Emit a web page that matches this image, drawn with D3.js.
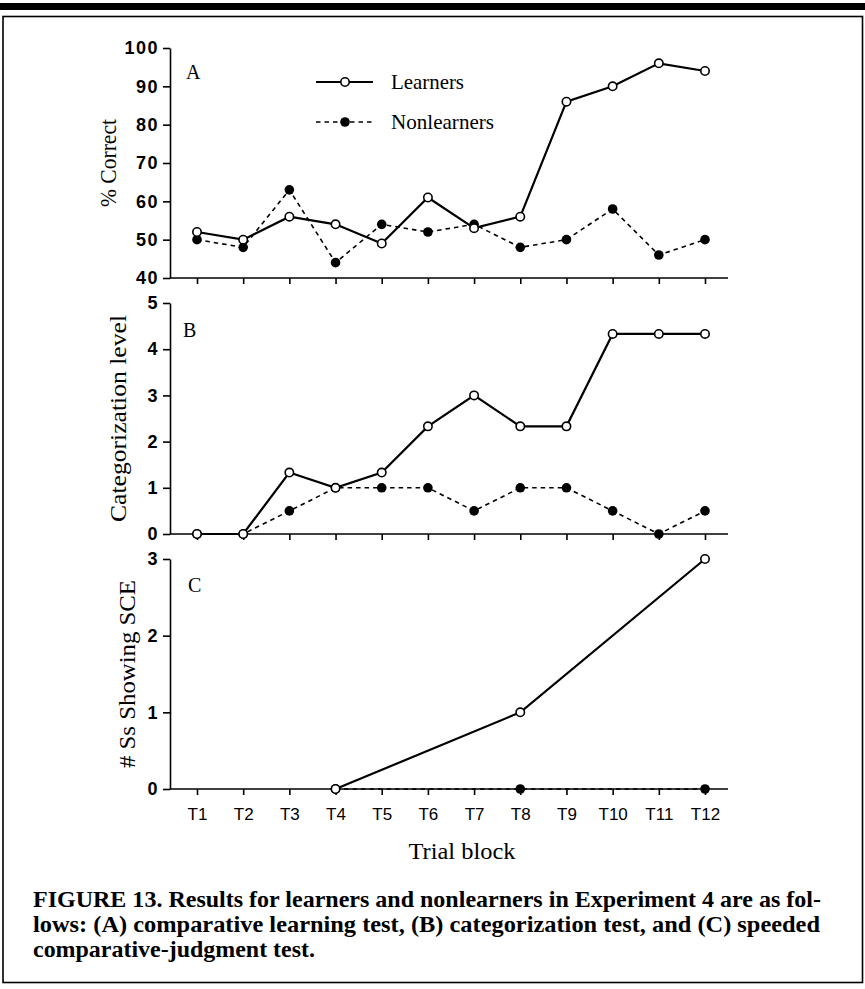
<!DOCTYPE html>
<html>
<head>
<meta charset="utf-8">
<script src="https://cdn.jsdelivr.net/npm/d3@7"></script>
<style>
  html, body { margin: 0; padding: 0; background: #fff; }
  svg { display: block; }
  .ytick text { font-family: "Liberation Sans", Arial, sans-serif; font-weight: bold; font-size: 18px; letter-spacing: 1.5px; fill: #000; }
  .xtick text { font-family: "Liberation Sans", Arial, sans-serif; font-size: 17px; fill: #000; }
  .serif { font-family: "Liberation Serif", "Times New Roman", serif; fill: #000; }
</style>
</head>
<body>
<svg id="fig" width="865" height="989"></svg>
<script>
// Trial blocks and per-panel series
const trialBlocks = ["T1", "T2", "T3", "T4", "T5", "T6", "T7", "T8", "T9", "T10", "T11", "T12"];

// Panel A: % correct on the comparative learning test
const correctLearners    = [52, 50, 56, 54, 49, 61, 53, 56, 86, 90, 96, 94];
const correctNonlearners = [50, 48, 63, 44, 54, 52, 54, 48, 50, 58, 46, 50];
const correctTicks = [40, 50, 60, 70, 80, 90, 100];

// Panel B: categorization level
const catLearners    = [0, 0, 1.33, 1, 1.33, 2.33, 3, 2.33, 2.33, 4.33, 4.33, 4.33];
const catNonlearners = [0, 0, 0.5, 1, 1, 1, 0.5, 1, 1, 0.5, 0, 0.5];
const catTicks = [0, 1, 2, 3, 4, 5];

// Panel C: number of subjects showing the SCE (tested on T4, T8, T12 only)
const sceLearners    = [null, null, null, 0, null, null, null, 1, null, null, null, 3];
const sceNonlearners = [null, null, null, 0, null, null, null, 0, null, null, null, 0];
const sceTicks = [0, 1, 2, 3];

const svg = d3.select("#fig");

// Page rules: heavy bar and figure frame
svg.append("rect").attr("x", 0).attr("y", 3).attr("width", 865).attr("height", 7).attr("fill", "#000");
svg.append("rect").attr("x", 3).attr("y", 16.5).attr("width", 859.5).attr("height", 966)
  .attr("fill", "none").attr("stroke", "#000").attr("stroke-width", 1.6);

const axisX0 = 170, axisX1 = 728;
const x = d3.scalePoint().domain(trialBlocks).range([197, 705]);

const panels = [
  { key: "A", top: 48,  bottom: 278, domain: [40, 100], ticks: correctTicks,
    learners: correctLearners, nonlearners: correctNonlearners,
    title: "% Correct", titleX: 116, titleLen: 88, letterY: 79, letterX: 186 },
  { key: "B", top: 303, bottom: 534, domain: [0, 5], ticks: catTicks,
    learners: catLearners, nonlearners: catNonlearners,
    title: "Categorization level", titleX: 126, titleLen: 207, letterY: 337, letterX: 183 },
  { key: "C", top: 559, bottom: 789, domain: [0, 3], ticks: sceTicks,
    learners: sceLearners, nonlearners: sceNonlearners,
    title: "# Ss Showing SCE", titleX: 135, titleLen: 188, letterY: 592, letterX: 188, labels: true }
];

panels.forEach(p => {
  const y = d3.scaleLinear().domain(p.domain).range([p.bottom, p.top]);
  const g = svg.append("g");

  // y axis
  const ya = g.append("g").attr("class", "ytick").attr("transform", `translate(${axisX0},0)`)
    .call(d3.axisLeft(y).tickValues(p.ticks).tickSize(7).tickSizeOuter(0).tickPadding(4).tickFormat(d3.format("d")));
  ya.select(".domain").attr("stroke-width", 1.6);
  ya.selectAll(".tick line").attr("stroke-width", 1.6);

  // x axis (ticks below the baseline)
  const xa = g.append("g").attr("class", "xtick").attr("transform", `translate(0,${p.bottom})`)
    .call(d3.axisBottom(x).tickSize(6).tickPadding(13).tickFormat(p.labels ? (d => d) : () => ""));
  xa.select(".domain").remove();
  xa.selectAll(".tick line").attr("stroke-width", 1.6);
  g.append("line").attr("x1", axisX0).attr("x2", axisX1).attr("y1", p.bottom).attr("y2", p.bottom)
    .attr("stroke", "#000").attr("stroke-width", 1.6);

  // axis title
  g.append("text").attr("class", "serif")
    .attr("transform", `translate(${p.titleX},${(p.top + p.bottom) / 2}) rotate(-90)`)
    .attr("text-anchor", "middle").attr("font-size", 23)
    .attr("textLength", p.titleLen).attr("lengthAdjust", "spacingAndGlyphs")
    .text(p.title);

  // panel letter
  g.append("text").attr("class", "serif").attr("x", p.letterX).attr("y", p.letterY)
    .attr("font-size", 20).text(p.key);

  const pts = arr => arr.map((v, i) => ({ t: trialBlocks[i], v })).filter(d => d.v !== null);
  const line = d3.line().x(d => x(d.t)).y(d => y(d.v));

  // nonlearners: dashed line, filled dots
  const nl = pts(p.nonlearners);
  g.append("path").attr("d", line(nl)).attr("fill", "none").attr("stroke", "#000")
    .attr("stroke-width", 1.6).attr("stroke-dasharray", "4.5,4");
  g.selectAll(".nl").data(nl).join("circle")
    .attr("cx", d => x(d.t)).attr("cy", d => y(d.v)).attr("r", 4.8).attr("fill", "#000");

  // learners: solid line, open circles
  const ln = pts(p.learners);
  g.append("path").attr("d", line(ln)).attr("fill", "none").attr("stroke", "#000").attr("stroke-width", 2.2);
  g.selectAll(".ln").data(ln).join("circle")
    .attr("cx", d => x(d.t)).attr("cy", d => y(d.v)).attr("r", 4.2)
    .attr("fill", "#fff").attr("stroke", "#000").attr("stroke-width", 1.6);
});

// legend
const legend = svg.append("g");
[{ label: "Learners", y: 82, dashed: false, len: 73 },
 { label: "Nonlearners", y: 122, dashed: true, len: 103 }].forEach(s => {
  legend.append("line").attr("x1", 316).attr("x2", 373).attr("y1", s.y).attr("y2", s.y)
    .attr("stroke", "#000").attr("stroke-width", s.dashed ? 1.6 : 2.2)
    .attr("stroke-dasharray", s.dashed ? "4.5,4" : null);
  if (s.dashed) {
    legend.append("circle").attr("cx", 345).attr("cy", s.y).attr("r", 4.8).attr("fill", "#000");
  } else {
    legend.append("circle").attr("cx", 345).attr("cy", s.y).attr("r", 4.2)
      .attr("fill", "#fff").attr("stroke", "#000").attr("stroke-width", 1.6);
  }
  legend.append("text").attr("class", "serif").attr("x", 391).attr("y", s.y + 7)
    .attr("font-size", 21).attr("textLength", s.len).attr("lengthAdjust", "spacingAndGlyphs")
    .text(s.label);
});

// x axis title
svg.append("text").attr("class", "serif").attr("x", 462).attr("y", 859)
  .attr("text-anchor", "middle").attr("font-size", 23)
  .attr("textLength", 107).attr("lengthAdjust", "spacingAndGlyphs").text("Trial block");

// caption
const captionLines = [
  { text: "FIGURE 13. Results for learners and nonlearners in Experiment 4 are as fol-", len: 788 },
  { text: "lows: (A) comparative learning test, (B) categorization test, and (C) speeded", len: 787 },
  { text: "comparative-judgment test.", len: 282 }
];
svg.append("g").selectAll("text").data(captionLines).join("text")
  .attr("class", "serif").attr("font-weight", "bold").attr("font-size", 23)
  .attr("x", 33).attr("y", (d, i) => 907 + i * 25)
  .attr("textLength", d => d.len).attr("lengthAdjust", "spacingAndGlyphs")
  .text(d => d.text);
</script>
</body>
</html>
